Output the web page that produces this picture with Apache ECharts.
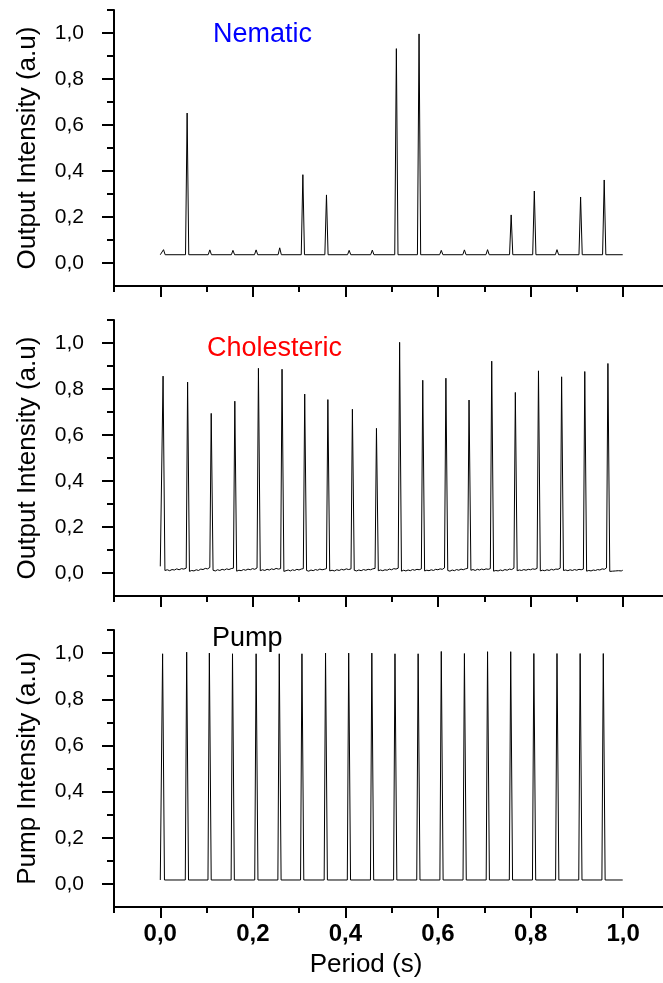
<!DOCTYPE html>
<html>
<head>
<meta charset="utf-8">
<title>Output and pump intensity versus period</title>
<script src="https://cdn.jsdelivr.net/npm/echarts@6/dist/echarts.min.js"></script>
<style>
  html, body { margin: 0; padding: 0; background: #fff; }
  #chart { width: 663px; height: 983px; }
</style>
</head>
<body>
<div id="chart"></div>
<script>
// ---- data (time in s, intensity in a.u.) ----
const periodLabels = [0, 0.2, 0.4, 0.6, 0.8, 1.0];
const periodMinor = [-0.1, 0.1, 0.3, 0.5, 0.7, 0.9];
const intensityLabels = [0, 0.2, 0.4, 0.6, 0.8, 1.0];
const intensityMinor = [0.1, 0.3, 0.5, 0.7, 0.9, 1.1];

// Nematic cell response
const nematicTimes = [0.007, 0.058, 0.107, 0.157, 0.207, 0.258, 0.308, 0.359, 0.408, 0.458,
                      0.510, 0.559, 0.607, 0.657, 0.707, 0.758, 0.808, 0.857, 0.908, 0.959];
const nematicPeaks = [0.058, 0.652, 0.057, 0.055, 0.057, 0.066, 0.384, 0.296, 0.055, 0.056,
                      0.932, 0.996, 0.055, 0.057, 0.058, 0.209, 0.313, 0.058, 0.287, 0.361];
const nematicFloor = 0.036;

// Cholesteric cell response
const cholTimes = [0.006, 0.059, 0.110, 0.161, 0.212, 0.263, 0.312, 0.362, 0.415, 0.467,
                   0.517, 0.567, 0.617, 0.667, 0.716, 0.767, 0.817, 0.867, 0.917, 0.967];
const cholPeaks = [0.856, 0.830, 0.694, 0.747, 0.890, 0.886, 0.778, 0.754, 0.712, 0.629,
                   1.003, 0.838, 0.847, 0.752, 0.921, 0.785, 0.879, 0.853, 0.876, 0.911];
const cholStart = [0.029, 0.025];
// noisy background between consecutive pulses
const cholFloor = [
  [0.011, 0.014, 0.010, 0.015, 0.013, 0.018, 0.014, 0.019, 0.017, 0.021],
  [0.007, 0.011, 0.009, 0.014, 0.011, 0.017, 0.015, 0.020, 0.018, 0.024],
  [0.012, 0.009, 0.014, 0.011, 0.016, 0.013, 0.018, 0.015, 0.019, 0.021],
  [0.008, 0.012, 0.010, 0.015, 0.012, 0.017, 0.014, 0.019, 0.016, 0.022],
  [0.010, 0.014, 0.011, 0.016, 0.013, 0.018, 0.015, 0.020, 0.017, 0.019],
  [0.007, 0.010, 0.013, 0.009, 0.014, 0.011, 0.016, 0.013, 0.017, 0.019],
  [0.011, 0.008, 0.013, 0.010, 0.015, 0.012, 0.017, 0.014, 0.016, 0.019],
  [0.009, 0.012, 0.009, 0.014, 0.011, 0.016, 0.013, 0.018, 0.015, 0.018],
  [0.012, 0.009, 0.013, 0.010, 0.015, 0.012, 0.016, 0.014, 0.018, 0.020],
  [0.010, 0.013, 0.010, 0.014, 0.012, 0.017, 0.014, 0.019, 0.017, 0.021],
  [0.008, 0.012, 0.009, 0.013, 0.010, 0.015, 0.012, 0.016, 0.014, 0.018],
  [0.009, 0.012, 0.010, 0.014, 0.011, 0.016, 0.014, 0.018, 0.016, 0.022],
  [0.011, 0.008, 0.013, 0.010, 0.015, 0.012, 0.017, 0.014, 0.018, 0.020],
  [0.012, 0.015, 0.011, 0.016, 0.013, 0.017, 0.014, 0.018, 0.016, 0.019],
  [0.008, 0.011, 0.009, 0.013, 0.010, 0.015, 0.012, 0.017, 0.015, 0.021],
  [0.010, 0.013, 0.011, 0.015, 0.012, 0.016, 0.014, 0.018, 0.016, 0.020],
  [0.009, 0.012, 0.010, 0.014, 0.011, 0.016, 0.013, 0.017, 0.016, 0.021],
  [0.011, 0.013, 0.010, 0.014, 0.011, 0.015, 0.012, 0.016, 0.014, 0.017],
  [0.008, 0.011, 0.009, 0.013, 0.011, 0.015, 0.013, 0.018, 0.016, 0.022],
  [0.007, 0.011, 0.008, 0.012, 0.009, 0.013, 0.010, 0.012, 0.009, 0.012]
];

// Pump pulses
const pumpTimes = [0.005, 0.057, 0.106, 0.156, 0.207, 0.257, 0.306, 0.357, 0.407, 0.457,
                   0.507, 0.557, 0.607, 0.657, 0.707, 0.757, 0.807, 0.857, 0.907, 0.957];
const pumpPeaks = [0.997, 1.004, 1.000, 0.997, 0.997, 0.997, 0.997, 1.000, 1.000, 1.000,
                   0.997, 0.997, 1.007, 0.998, 1.006, 1.006, 0.998, 0.998, 0.998, 0.998];
const pumpFloor = 0.017;

const traceStart = 0.0;
const traceEnd = 0.999;

// ---- trace builders ----
function flatTrace(times, peaks, floor, rise, fall) {
  const pts = [[traceStart, floor]];
  times.forEach((t, i) => {
    pts.push([t - rise, floor], [t, peaks[i]], [t + fall, floor]);
  });
  pts.push([traceEnd, floor]);
  return pts;
}

function noisyTrace(times, peaks, start, floors, rise, fall) {
  const pts = [[traceStart, start[0]], [times[0] - rise, start[1]]];
  times.forEach((t, i) => {
    pts.push([t, peaks[i]]);
    const a = t + fall;
    const b = i + 1 < times.length ? times[i + 1] - rise : traceEnd;
    const f = floors[i];
    f.forEach((v, k) => {
      pts.push([a + (b - a) * k / (f.length - 1), v]);
    });
  });
  return pts;
}

const nematicData = flatTrace(nematicTimes, nematicPeaks, nematicFloor, 0.0035, 0.0035);
const cholData = noisyTrace(cholTimes, cholPeaks, cholStart, cholFloor, 0.003, 0.004);
const pumpData = flatTrace(pumpTimes, pumpPeaks, pumpFloor, 0.003, 0.004);

// ---- layout ----
const FONT = 'Liberation Sans, Arial, sans-serif';
const panels = [
  { top: 10, height: 276, yName: 'Output Intensity (a.u)', data: nematicData },
  { top: 320, height: 276, yName: 'Output Intensity (a.u)', data: cholData },
  { top: 630, height: 277, yName: 'Pump Intensity (a.u)', data: pumpData }
];
const gridLeft = 114;
const xMin = -0.1;
const xMax = 1.086; // axis runs on to the right edge of the figure

const fmt = v => v.toFixed(1).replace('.', ',');
const axisLine = { show: true, onZero: false, lineStyle: { color: '#000', width: 2 } };

const grid = [], xAxis = [], yAxis = [], series = [];
panels.forEach((p, i) => {
  const last = i === panels.length - 1;
  // main grid: axis lines, major ticks, labels
  grid.push({ left: gridLeft, right: 0, top: p.top, height: p.height });
  xAxis.push({
    gridIndex: i, type: 'value', min: xMin, max: xMax,
    axisLine: axisLine,
    axisTick: { show: true, inside: false, length: 11, customValues: periodLabels,
                lineStyle: { color: '#000', width: 2 } },
    axisLabel: { show: last, customValues: periodLabels, formatter: fmt, margin: 15,
                 color: '#000', fontSize: 24, fontWeight: 'bold', fontFamily: FONT },
    splitLine: { show: false }
  });
  yAxis.push({
    gridIndex: i, type: 'value', min: -0.1, max: 1.1,
    axisLine: axisLine,
    axisTick: { show: true, inside: false, length: 12, customValues: intensityLabels,
                lineStyle: { color: '#000', width: 2 } },
    axisLabel: { show: true, customValues: intensityLabels, formatter: fmt, margin: 30,
                 color: '#000', fontSize: 21, fontFamily: FONT },
    splitLine: { show: false },
    name: p.yName, nameLocation: 'middle', nameGap: 73,
    nameTextStyle: { color: '#000', fontSize: 26, fontFamily: FONT }
  });
  series.push({
    type: 'line', xAxisIndex: i, yAxisIndex: i, data: p.data,
    showSymbol: false, symbol: 'none', silent: true, animation: false,
    lineStyle: { color: '#000', width: 1 }
  });
});
// overlay grids carrying the shorter minor ticks
panels.forEach((p, i) => {
  const gi = panels.length + i;
  grid.push({ left: gridLeft, right: 0, top: p.top, height: p.height });
  xAxis.push({
    gridIndex: gi, type: 'value', min: xMin, max: xMax,
    axisLine: { show: false, onZero: false },
    axisTick: { show: true, inside: false, length: 6, customValues: periodMinor,
                lineStyle: { color: '#000', width: 2 } },
    axisLabel: { show: false }, splitLine: { show: false }
  });
  yAxis.push({
    gridIndex: gi, type: 'value', min: -0.1, max: 1.1,
    axisLine: { show: false, onZero: false },
    axisTick: { show: true, inside: false, length: 7, customValues: intensityMinor,
                lineStyle: { color: '#000', width: 2 } },
    axisLabel: { show: false }, splitLine: { show: false }
  });
});

const chart = echarts.init(document.getElementById('chart'), null, { renderer: 'canvas' });
chart.setOption({
  animation: false,
  backgroundColor: '#fff',
  textStyle: { fontFamily: FONT },
  title: [
    { text: 'Nematic', left: 213, top: 21, padding: 0,
      textStyle: { color: '#0000ff', fontSize: 27, fontWeight: 'normal', fontFamily: FONT } },
    { text: 'Cholesteric', left: 207, top: 335, padding: 0,
      textStyle: { color: '#ff0000', fontSize: 27, fontWeight: 'normal', fontFamily: FONT } },
    { text: 'Pump', left: 212, top: 625, padding: 0,
      textStyle: { color: '#000', fontSize: 27, fontWeight: 'normal', fontFamily: FONT } }
  ],
  graphic: [
    { type: 'text', x: 366, y: 952,
      style: { text: 'Period (s)', align: 'center', verticalAlign: 'top',
               fill: '#000', fontSize: 26, fontFamily: FONT } }
  ],
  grid: grid,
  xAxis: xAxis,
  yAxis: yAxis,
  series: series
});
</script>
</body>
</html>
